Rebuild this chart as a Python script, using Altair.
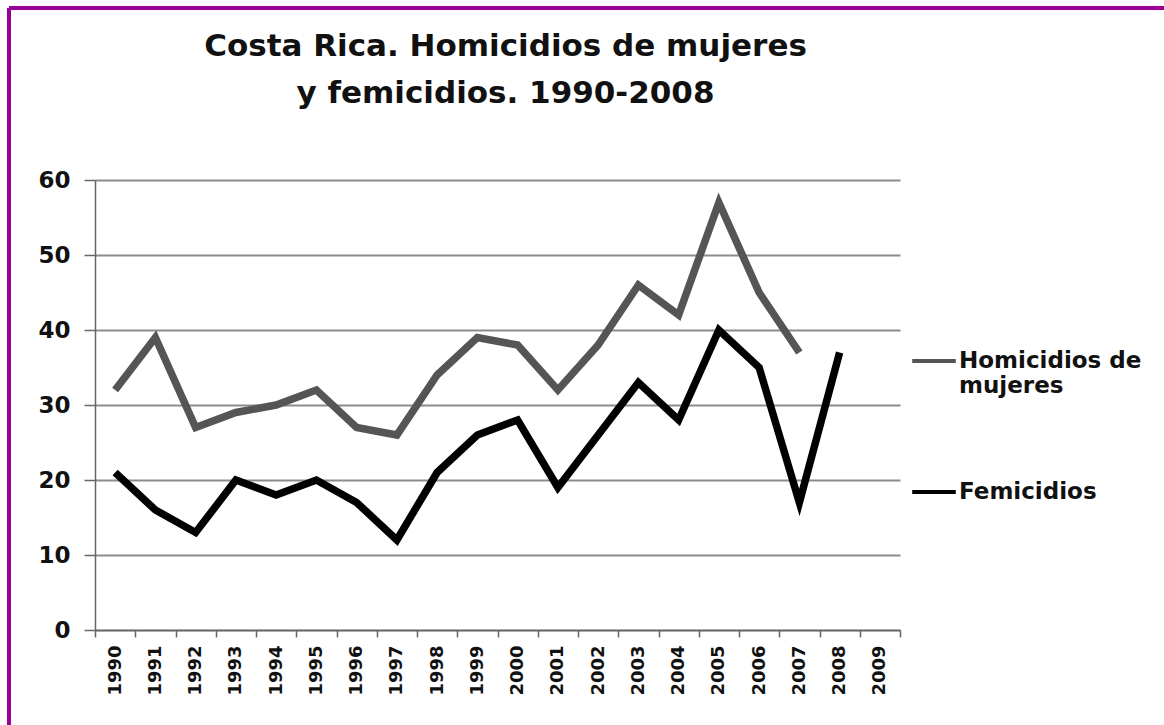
import altair as alt
import pandas as pd

# Annual counts, Costa Rica
years = [str(y) for y in range(1990, 2010)]
homicidios = [32, 39, 27, 29, 30, 32, 27, 26, 34, 39, 38, 32, 38, 46, 42, 57, 45, 37]
femicidios = [21, 16, 13, 20, 18, 20, 17, 12, 21, 26, 28, 19, 26, 33, 28, 40, 35, 17, 37]
series = ["Homicidios de mujeres", "Femicidios"]
series_colors = ["#555555", "#000000"]
y_ticks = [0, 10, 20, 30, 40, 50, 60]

rows = []
for name, values in zip(series, [homicidios, femicidios]):
    for year, value in zip(years, values):
        rows.append({"Año": year, "Serie": name, "Valor": value})
df = pd.DataFrame(rows)

FONT = "DejaVu Sans"

x_enc = alt.X(
    "Año:O",
    bandPosition=0.5,
    scale=alt.Scale(type="band", domain=years, paddingInner=0, paddingOuter=0),
    axis=alt.Axis(
        title=None,
        labelAngle=270,
        labelFont=FONT,
        labelFontSize=18,
        labelFontWeight="bold",
        labelColor="#111111",
        labelPadding=8,
        tickBand="extent",
        tickSize=7,
        tickColor="#666666",
        tickWidth=1.5,
        domainColor="#666666",
        domainWidth=1.5,
        grid=False,
    ),
)

y_enc = alt.Y(
    "Valor:Q",
    scale=alt.Scale(domain=[0, 60], nice=False, zero=True),
    axis=alt.Axis(
        title=None,
        values=y_ticks,
        labelFont=FONT,
        labelFontSize=23,
        labelFontWeight="bold",
        labelColor="#111111",
        labelPadding=14,
        tickSize=11,
        tickColor="#666666",
        tickWidth=1.5,
        domainColor="#666666",
        domainWidth=1.5,
        grid=True,
        gridColor="#8c8c8c",
        gridWidth=1.8,
    ),
)

lines = alt.Chart(df).mark_line(strokeWidth=7.5, strokeJoin="miter").encode(
    x=x_enc,
    y=y_enc,
    color=alt.Color(
        "Serie:N",
        scale=alt.Scale(domain=series, range=series_colors),
        legend=alt.Legend(
            title=None,
            orient="none",
            legendX=815,
            legendY=157,
            symbolType="stroke",
            symbolSize=1900,
            symbolStrokeWidth=4,
            labelFont=FONT,
            labelFontSize=23,
            labelFontWeight="bold",
            labelColor="#111111",
            labelOffset=1,
            labelLimit=400,
            rowPadding=70,
            labelExpr="datum.label == 'Homicidios de mujeres' ? ['Homicidios de', 'mujeres'] : datum.label",
        ),
    ),
)

# Purple frame along the top and left edges
frame_top = alt.Chart(df).mark_rule(color="#990099", strokeWidth=3).encode(
    x=alt.value(-86), x2=alt.value(1069), y=alt.value(-172)
)
frame_left = alt.Chart(df).mark_rule(color="#990099", strokeWidth=3).encode(
    x=alt.value(-86), y=alt.value(-172), y2=alt.value(545)
)

chart = (
    alt.layer(lines, frame_top, frame_left)
    .properties(
        width=805,
        height=450,
        padding={"left": 95, "top": 180, "right": 264, "bottom": 95},
        autosize=alt.AutoSizeParams(type="none"),
        background="#ffffff",
        title=alt.TitleParams(
            text=["Costa Rica. Homicidios de mujeres", "y femicidios. 1990-2008"],
            font=FONT,
            fontSize=31,
            fontWeight="bold",
            color="#111111",
            anchor="middle",
            dx=8,
            offset=-103,
            lineHeight=47,
        ),
    )
    .configure_view(stroke=None)
)

chart.save("out.html", embed_options={"renderer": "svg", "actions": False})
